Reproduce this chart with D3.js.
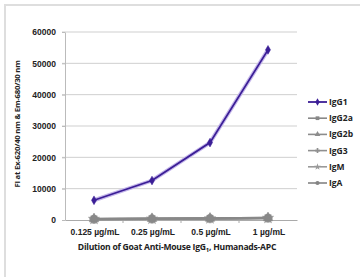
<!DOCTYPE html>
<html>
<head>
<meta charset="utf-8">
<script src="https://cdn.jsdelivr.net/npm/d3@7"></script>
<style>
  body { margin: 0; background: #fff; }
  svg { display: block; font-family: 'Open Sans', sans-serif; }
  .tick text { font-weight: 700; fill: #222; font-size: 8.5px; }
</style>
</head>
<body>
<div id="chart"></div>
<script>
const doses = ['0.125 µg/mL', '0.25 µg/mL', '0.5 µg/mL', '1 µg/mL']
const yTicks = [0, 10000, 20000, 30000, 40000, 50000, 60000]
const seriesNames = ['IgG1', 'IgG2a', 'IgG2b', 'IgG3', 'IgM', 'IgA']
const igg1 = [6300, 12600, 24700, 54300]
const igg2a = [350, 450, 550, 700]
const igg2b = [300, 400, 500, 650]
const igg3 = [250, 350, 450, 600]
const igm = [300, 380, 480, 620]
const iga = [280, 360, 470, 640]

const values = [igg1, igg2a, igg2b, igg3, igm, iga]
const symbols = [d3.symbolDiamond, d3.symbolSquare, d3.symbolTriangle, d3.symbolCross, d3.symbolStar, d3.symbolCircle]
const colors = ['#3b1e96', '#888', '#8c8c8c', '#909090', '#999', '#848484']

const width = 360
const height = 277
const plotLeft = 65
const plotRight = 297
const plotTop = 32
const plotBottom = 220

const svg = d3.select('#chart')
  .append('svg')
  .attr('width', width)
  .attr('height', height)

// frame
svg.append('rect')
  .attr('x', 5).attr('y', 5)
  .attr('width', 420).attr('height', 400)
  .attr('fill', 'none')
  .attr('stroke', '#dedede')
  .attr('stroke-width', 2)

const x = d3.scaleBand().domain(doses).range([plotLeft, plotRight])
const y = d3.scaleLinear().domain([0, 60000]).range([plotBottom, plotTop])

// gridlines
svg.append('g')
  .selectAll('line')
  .data(yTicks.filter(d => d > 0))
  .enter()
  .append('line')
  .attr('x1', plotLeft - 3)
  .attr('x2', plotRight)
  .attr('y1', d => y(d))
  .attr('y2', d => y(d))
  .attr('stroke', '#cfcfcf')
  .attr('stroke-width', 1)

// y-axis
const yAxis = d3.axisLeft(y).tickValues(yTicks).tickFormat(d3.format('d')).tickSize(3).tickPadding(6).tickSizeOuter(0)
const gy = svg.append('g')
  .attr('transform', `translate(${plotLeft}, 0)`)
  .call(yAxis)
gy.select('.domain').attr('stroke', '#bbb')
gy.selectAll('.tick line').attr('stroke', '#bbb')

// x-axis
const xAxis = d3.axisBottom(x).tickSize(0).tickPadding(9)
const gx = svg.append('g')
  .attr('transform', `translate(0, ${plotBottom})`)
  .call(xAxis)
gx.select('.domain').attr('stroke', '#aaa')
gx.selectAll('.tick text').attr('dx', 1)
gx.selectAll('.boundary')
  .data(doses.slice(1))
  .enter()
  .append('line')
  .attr('x1', d => x(d))
  .attr('x2', d => x(d))
  .attr('y1', 0)
  .attr('y2', 3)
  .attr('stroke', '#aaa')

// axis titles
const xt = svg.append('text')
  .attr('x', 177)
  .attr('y', 250)
  .attr('text-anchor', 'middle')
  .attr('font-size', 8.6)
  .attr('font-weight', 700)
  .attr('fill', '#222')
  .attr('letter-spacing', -0.25)
xt.append('tspan').text('Dilution of Goat Anti-Mouse IgG')
xt.append('tspan').attr('font-size', 6).attr('dy', 1.5).text('1')
xt.append('tspan').attr('dy', -1.5).text(', Humanads-APC')

svg.append('text')
  .attr('transform', 'translate(20, 124) rotate(-90)')
  .attr('text-anchor', 'middle')
  .attr('font-size', 7.8)
  .attr('font-weight', 700)
  .attr('fill', '#222')
  .attr('letter-spacing', -0.25)
  .text('FI at Ex-620/40 nm & Em-680/30 nm')

const line = d3.line()
  .x((d, i) => x(doses[i]) + x.bandwidth() / 2)
  .y(d => y(d))

// series drawn back to front so IgG1 sits on top
const order = [5, 4, 3, 2, 1, 0]
const series = svg.append('g')
  .selectAll('g')
  .data(order)
  .enter()
  .append('g')

series.filter(k => k === 0)
  .append('path')
  .attr('fill', 'none')
  .attr('stroke', '#c4b6ea')
  .attr('stroke-width', 4)
  .attr('d', k => line(values[k]))

series.append('path')
  .attr('fill', 'none')
  .attr('stroke', k => colors[k])
  .attr('stroke-width', k => k === 0 ? 1.8 : 2.2)
  .attr('d', k => line(values[k]))

series.selectAll('path.pt')
  .data(k => values[k].map((v, i) => ({ k, v, i })))
  .enter()
  .append('path')
  .attr('class', 'pt')
  .attr('transform', d => `translate(${x(doses[d.i]) + x.bandwidth() / 2}, ${y(d.v)})`)
  .attr('d', d => d3.symbol().type(symbols[d.k]).size(d.k === 0 ? 22 : 40)())
  .attr('fill', d => colors[d.k])
  .attr('stroke', d => colors[d.k])
  .attr('stroke-width', 0.5)

// legend
const legend = svg.append('g')
  .attr('transform', 'translate(308, 102)')
const item = legend.selectAll('g')
  .data(seriesNames)
  .enter()
  .append('g')
  .attr('transform', (d, i) => `translate(0, ${i * 16.2})`)
item.append('line')
  .attr('x1', 0).attr('x2', 19)
  .attr('stroke', (d, i) => colors[i])
  .attr('stroke-width', (d, i) => i === 0 ? 1.8 : 1.6)
item.append('path')
  .attr('transform', 'translate(9.5, 0)')
  .attr('d', (d, i) => d3.symbol().type(symbols[i]).size(i === 0 ? 16 : 14)())
  .attr('fill', (d, i) => colors[i])
item.append('text')
  .attr('x', 21)
  .attr('dy', '0.35em')
  .attr('font-size', 8.5)
  .attr('font-weight', 700)
  .attr('fill', '#222')
  .text(d => d)
</script>
</body>
</html>
